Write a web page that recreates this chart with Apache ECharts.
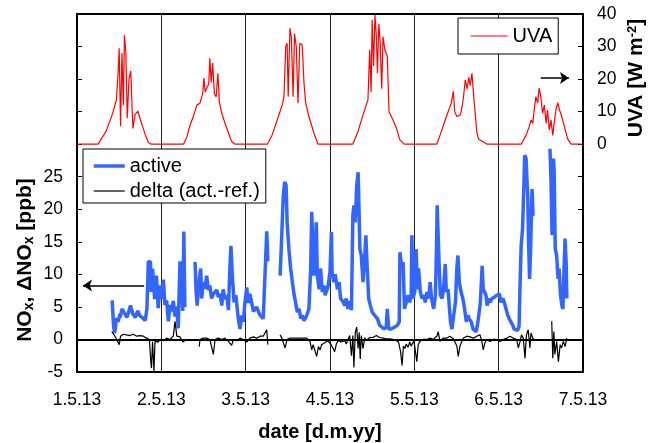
<!DOCTYPE html>
<html>
<head>
    <meta charset="UTF-8">
    <script src="https://cdn.jsdelivr.net/npm/echarts@6/dist/echarts.min.js"></script>
    <style>
        html, body { margin: 0; padding: 0; background: #fff; }
        #main { width: 658px; height: 443px; }
    </style>
</head>
<body>
<div id="main"></div>
<script type="text/javascript">
    // x values are hours after 1.5.13 00:00
    var dayLabels = ['1.5.13', '2.5.13', '3.5.13', '4.5.13', '5.5.13', '6.5.13', '7.5.13'];

    // UVA [W m-2]
    var uva = [
        [0, 0], [6.0, 0], [6.5, 0.5], [8.3, 4], [10.0, 9], [11.2, 13.5], [11.7, 22], [12.0, 29.5], [12.4, 5.5], [12.8, 28],
        [13.2, 12], [13.5, 33.5], [13.9, 28], [14.3, 8], [14.8, 20], [15.3, 22.5], [15.9, 4.8], [16.5, 9], [17.3, 10.2],
        [18.2, 7], [19.4, 3], [20.3, 0.5], [21.1, 0],
        [30.3, 0], [31.2, 2], [32.2, 5.9], [33.1, 8.5], [34.1, 12], [35.0, 12.6], [35.8, 15.7], [36.1, 20.3], [36.5, 16],
        [37.0, 17.5], [37.5, 18.5], [37.8, 26.4], [38.2, 19], [38.6, 24.9], [39.1, 15.5], [39.6, 14.5], [40.1, 21.8],
        [40.5, 13], [41.2, 9.5], [42.1, 6.5], [43.1, 3.5], [44.0, 0.8], [45.0, 0],
        [54.2, 0], [55.6, 3], [57.0, 7.5], [58.4, 12], [58.9, 14.6], [59.4, 30], [59.8, 31], [60.1, 14.6], [60.6, 35.6],
        [61.0, 33], [61.5, 14.6], [61.9, 34], [62.4, 30], [62.9, 12.6], [63.4, 31], [64.1, 30.5], [64.6, 18.7],
        [65.1, 12.6], [66.0, 8.5], [67.4, 3.5], [68.6, 0],
        [78.5, 0], [80.0, 4], [81.4, 9], [82.8, 13.6], [83.3, 29], [83.7, 16], [84.0, 38.2], [84.4, 24], [84.8, 39.7],
        [85.2, 33], [85.5, 21.8], [85.9, 37], [86.3, 31], [86.7, 17], [87.1, 33], [87.6, 29], [88.3, 27], [88.8, 10],
        [89.9, 7.5], [90.9, 5], [91.8, 1.5], [93.1, 0],
        [102.4, 0], [103.4, 3], [104.8, 7.5], [105.8, 10.5], [106.5, 12.6], [107.1, 16.2], [107.5, 10], [108.1, 8.5],
        [109.1, 9], [109.6, 11.5], [110.0, 14.6], [110.5, 19.8], [111.0, 17], [111.5, 20.5], [111.9, 18], [112.4, 21.8],
        [112.9, 14.6], [113.4, 8.5], [113.8, 3.5], [114.3, 1.5], [115.7, 0.7], [116.7, 0],
        [126.4, 0], [127.3, 1.7], [127.8, 2.7], [128.7, 5.4], [129.2, 7.4], [129.7, 6.4], [130.1, 10.5], [130.6, 14.6],
        [131.1, 12.6], [131.5, 17.2], [132.0, 14.6], [132.5, 9.5], [133.0, 12], [133.5, 6.4], [133.9, 10.5], [134.4, 4.4],
        [134.9, 7.4], [135.4, 2.7], [135.8, 6.4], [136.3, 10.5], [136.8, 12.8], [137.3, 10.5], [137.7, 9.5], [138.7, 5.4],
        [139.6, 1.7], [140.6, 0], [144, 0]
    ];

    // NOx active [ppb], null = no data
    var active = [
        [10.0, 6.0], [10.4, 2.1], [10.7, 1.0], [11.3, 3.3], [11.7, 2.7], [12.2, 3.9], [12.3, 3.4], [12.8, 4.7], [13.7, 3.9],
        [14.2, 3.4], [14.7, 4.2], [15.2, 5.2], [15.9, 3.9], [16.6, 3.4], [17.3, 4.4], [17.8, 3.7], [18.5, 3.4], [19.4, 2.9],
        [19.9, 4.7], [20.3, 12.0], [20.9, 11.9], [21.1, 7.3], [21.5, 10.9], [22.1, 6.2], [22.6, 9.8], [23.1, 4.8],
        [23.6, 8.3], [24.1, 6.2], [24.6, 9.2], [25.0, 5.3], [25.5, 6.0], [26.0, 2.8], [26.5, 5.3], [26.9, 4.3], [27.4, 5.9],
        [27.9, 3.5], [28.4, 5.1], [28.8, 1.7], [29.3, 12.0], [29.8, 8.0], [30.1, 4.4], [30.4, 16.6], [30.7, 5.0],
        [32.0, null],
        [33.6, 11.9], [33.9, 7.3], [34.2, 5.2], [34.8, 9.3], [35.2, 10.9], [35.5, 6.3], [35.9, 8.8], [36.4, 7.8],
        [36.9, 9.8], [37.4, 7.6], [37.8, 8.3], [38.3, 6.3], [38.8, 7.0], [39.3, 6.8], [39.8, 7.6], [40.2, 6.5], [40.7, 7.0],
        [41.2, 5.2], [41.6, 7.7], [42.1, 6.2], [42.6, 6.8], [43.1, 4.5], [43.5, 10.9], [43.8, 14.4], [44.2, 9.8],
        [44.7, 5.7], [45.2, 6.8], [45.9, 3.2], [46.4, 1.6], [46.9, 3.7], [47.3, 2.7], [47.8, 5.7], [48.3, 8.0], [48.7, 5.6],
        [49.2, 7.0], [50.2, 4.3], [51.1, 5.0], [52.1, 3.7], [53.0, 3.2], [53.5, 3.0], [54.0, 16.6], [54.3, 12.0],
        [56.0, null],
        [57.8, 9.8], [58.2, 15.0], [58.7, 22.1], [59.1, 24.2], [59.5, 23.7], [59.8, 18.0], [60.3, 13.9], [60.8, 10.9],
        [61.3, 8.8], [61.8, 6.8], [62.2, 5.7], [62.7, 4.2], [63.2, 4.7], [63.7, 3.2], [64.1, 3.7], [64.6, 2.9], [65.1, 3.4],
        [65.5, 3.9], [66.0, 4.7], [66.5, 10.9], [66.8, 19.6], [67.2, 12.9], [67.4, 9.8], [67.7, 12.4], [68.1, 18.0],
        [68.4, 9.8], [68.9, 7.7], [69.3, 10.9], [69.8, 7.3], [70.3, 8.3], [70.6, 6.8], [71.4, 8.0], [72.0, 10.4],
        [72.4, 16.5], [72.6, 10.3], [73.1, 8.8], [73.5, 10.0], [74.1, 7.7], [74.6, 8.8], [75.0, 6.3], [75.7, 5.8],
        [76.2, 5.2], [76.6, 6.3], [77.1, 4.7], [77.6, 5.9], [78.1, 4.5], [78.5, 19.0], [78.8, 20.6], [79.2, 18.0],
        [79.6, 23.7], [80.0, 25.7], [80.3, 19.0], [80.5, 13.9], [80.9, 12.9], [81.4, 8.8], [81.9, 12.9], [82.2, 16.0],
        [82.6, 10.9], [83.0, 6.3], [83.5, 5.2], [84.0, 4.2], [84.7, 3.7], [85.5, 3.2], [86.1, 2.2], [86.6, 1.9],
        [87.4, 1.6], [88.0, 1.9], [88.3, 4.7], [88.7, 1.6], [89.4, 1.6], [90.4, 1.9], [91.2, 2.2], [91.7, 2.7],
        [91.9, 13.4], [92.3, 11.4], [92.8, 11.9], [93.2, 4.7], [93.7, 5.7], [94.2, 6.8], [94.7, 5.7], [95.1, 6.8],
        [95.3, 16.0], [95.6, 6.3], [96.1, 7.3], [96.5, 13.9], [96.9, 7.7], [97.2, 10.9], [97.7, 7.3], [98.2, 6.3],
        [98.7, 6.8], [99.1, 5.7], [99.6, 7.3], [100.1, 6.3], [100.5, 8.8], [100.9, 6.3], [101.5, 4.7], [102.0, 6.8],
        [102.3, 13.9], [102.5, 20.6], [102.9, 13.9], [103.4, 6.8], [103.9, 6.3], [104.3, 7.7], [104.8, 11.6], [105.1, 7.3],
        [105.6, 7.7], [106.0, 4.7], [106.3, 2.7], [106.7, 1.6], [107.2, 3.7], [107.7, 5.7], [108.1, 10.9], [108.4, 12.9],
        [108.8, 8.8], [109.3, 7.3], [109.8, 6.3], [110.3, 4.7], [110.8, 2.7], [111.3, 3.7], [111.6, 3.2], [112.2, 2.7],
        [112.7, 1.6], [113.2, 1.4], [113.6, 1.2], [114.1, 2.7], [114.8, 5.7], [115.3, 11.3], [115.6, 7.7], [116.0, 7.3],
        [116.4, 6.8], [116.7, 5.2], [117.2, 6.3], [117.6, 5.7], [118.1, 6.3], [118.8, 6.5], [119.5, 6.8], [120.2, 7.0],
        [120.7, 5.7], [121.2, 6.3], [121.6, 5.7], [122.1, 4.7], [122.6, 3.7], [123.0, 3.2], [123.5, 2.7], [124.0, 2.2],
        [124.4, 1.6], [124.9, 1.9], [125.4, 1.4], [125.8, 2.0], [126.1, 8.8], [126.4, 14.4], [126.8, 17.0], [127.2, 24.2],
        [127.4, 28.3], [127.8, 27.8], [128.0, 25.2], [128.3, 21.7], [128.5, 15.0], [128.8, 9.3], [129.1, 14.0],
        [129.5, 23.1], [129.8, 19.0],
        [132.0, null],
        [134.6, 29.3], [134.9, 24.2], [135.2, 16.0], [135.6, 27.8], [135.8, 25.7], [136.1, 13.9], [136.5, 12.9],
        [136.9, 9.3], [137.2, 10.9], [137.6, 6.8], [138.0, 5.2], [138.3, 4.7], [138.6, 10.9], [138.9, 15.5], [139.2, 11.9],
        [139.4, 6.3]
    ];

    // delta (act.-ref.) [ppb], null = no data
    var delta = [
        [9.9, 1.2], [10.8, 0.5], [11.3, 0.7], [12.0, -0.8], [12.4, 0.5], [13.2, 0.8], [14.1, 0.7], [15.1, 0.6], [16.0, 0.8],
        [17.0, 0.5], [17.9, 0.6], [18.9, 0.5], [19.8, 0.2], [20.6, 0], [21.0, -3.4], [21.2, -4.4], [21.5, -0.3], [21.9, -4.9],
        [22.2, -0.3], [22.7, 0], [23.1, -0.4], [23.6, 0], [24.6, -0.2], [25.5, 0.2], [26.5, 0], [27.4, 0.5], [27.9, 2.8],
        [28.4, 0.5], [29.3, 0.4], [30.1, -0.4], [30.7, -0.2],
        [32.0, null],
        [34.8, -1.1], [35.0, 0], [35.9, 0.2], [36.9, 0.2], [37.8, 0], [38.8, -2.3], [39.3, 0], [40.2, 0.2], [41.2, 0],
        [42.1, 0.2], [43.1, -0.3], [44.0, -0.9], [44.5, 0], [45.4, -0.2], [46.4, 0.2], [47.3, 0], [48.3, -0.4], [49.2, 0.2],
        [50.2, 0.4], [51.1, 0.2], [52.1, 0.5], [53.0, 0.5], [54.0, 1.5], [54.3, -0.8],
        [56.0, null],
        [57.8, 0.7], [58.3, 0.2], [59.2, -1.3], [59.8, 0], [60.6, 0.2], [61.6, 0.2], [62.5, 0.2], [63.5, 0.2], [64.4, 0.2],
        [65.4, 0.2], [66.3, -0.3], [66.8, -1.6], [67.2, -0.8], [68.2, -2.6], [68.7, -1.1], [69.2, -1.6], [69.6, -0.8],
        [70.1, -1.1], [71.4, -0.2], [72.2, -0.7], [72.9, -1.4], [73.3, -1.9], [73.8, -0.7], [74.3, -0.2], [75.2, -0.4],
        [76.2, -0.2], [76.6, -0.7], [77.1, -1.0], [77.6, 0.6], [78.1, -2.5], [78.5, 0.6], [78.8, -4.3], [79.2, 1.1],
        [79.6, 1.9], [80.0, -1.4], [80.3, 1.1], [80.6, -3.0], [80.9, 0.6], [81.4, -1.4], [81.9, 0.3], [82.3, -0.2],
        [83.3, 0.3], [84.2, 0.3], [85.2, 0.6], [86.1, 0.3], [87.1, 0.2], [88.0, 0.1], [89.0, 0.1], [89.9, 0], [90.9, -0.2],
        [91.5, -0.4], [92.1, -1.9], [92.5, -4.0], [92.9, -1.0], [93.3, -1.4], [93.7, -0.7], [94.2, -1.2], [94.7, -0.4],
        [95.1, -1.0], [95.9, -0.2], [96.7, -3.4], [97.1, -0.8], [97.6, -0.3], [98.5, 0], [99.5, 0], [100.5, 0.2],
        [101.4, 0], [102.4, 0.5], [102.8, 1.2], [103.3, -0.3], [104.2, 0.2], [105.2, 0.2], [106.1, 0.5], [107.1, 0.1],
        [107.6, 0], [108.1, -1.0], [108.5, -2.6], [109.0, -1.0], [109.5, -0.3], [109.9, 0.2], [110.9, 0.5], [111.8, 0.4],
        [112.8, 0.2], [113.7, 0.5], [114.7, 0.7], [115.2, -0.3], [115.6, -1.6], [116.1, -0.5], [116.6, 0], [117.5, -0.3],
        [118.5, 0], [119.4, 0], [120.4, -0.3], [121.3, 0], [122.3, 0.2], [123.2, 0.5], [124.2, 0.2], [124.6, 0.5],
        [125.1, 0], [125.6, -1.3], [126.1, -0.3], [126.5, 0.7], [127.0, 0.2], [127.5, -2.9], [127.9, 0.7], [128.4, 1.5],
        [128.9, -1.3], [129.2, 1.0], [129.7, 0.2], [130.0, 0],
        [132.0, null],
        [135.1, 2.8], [135.4, -2.9], [135.7, 1.2], [136.0, -2.3], [136.5, -0.3], [137.0, -3.4], [137.5, -0.8],
        [137.9, -1.3], [138.4, -0.3], [138.9, -1.1], [139.4, 0.2]
    ];

    var font = 'Liberation Sans, Arial, sans-serif';

    var myChart = echarts.init(document.getElementById('main'));
    var option = {
        animation: false,
        backgroundColor: '#fff',
        textStyle: { fontFamily: font, color: '#000' },
        grid: {
            left: 77, right: 75, top: 14, bottom: 71,
            outerBoundsMode: 'none',
            show: true, borderColor: '#000', borderWidth: 2
        },
        legend: [
            {
                data: [{ name: 'UVA', lineStyle: { width: 1.2 } }],
                left: 458, top: 18,
                padding: [8, 6, 8, 12],
                itemWidth: 37, itemHeight: 12,
                itemStyle: { opacity: 0 },
                borderColor: '#000', borderWidth: 1,
                backgroundColor: '#fff',
                textStyle: { fontFamily: font, fontSize: 20, color: '#000' }
            },
            {
                data: [
                    { name: 'active', lineStyle: { width: 3.5 } },
                    { name: 'delta (act.-ref.)', lineStyle: { width: 1.2 } }
                ],
                orient: 'vertical',
                left: 83, top: 149,
                padding: [7, 6, 2, 9],
                itemGap: 5,
                itemWidth: 31, itemHeight: 12,
                itemStyle: { opacity: 0 },
                borderColor: '#000', borderWidth: 1,
                backgroundColor: '#fff',
                textStyle: { fontFamily: font, fontSize: 20, color: '#000', lineHeight: 20 }
            }
        ],
        xAxis: {
            type: 'value',
            min: 0, max: 144, interval: 24,
            name: 'date [d.m.yy]',
            nameLocation: 'middle',
            nameGap: 50,
            nameTextStyle: {
                fontFamily: font, fontSize: 20, fontWeight: 'bold', color: '#000',
                padding: [0, 20, 0, 0]
            },
            axisLine: { show: true, lineStyle: { color: '#000', width: 2 } },
            axisTick: { show: false },
            axisLabel: {
                margin: 19, fontSize: 17.5, color: '#000', fontFamily: font,
                formatter: function (v) { return dayLabels[Math.round(v / 24)]; }
            },
            splitLine: { show: true, lineStyle: { color: '#222', width: 1 } }
        },
        yAxis: [
            {
                type: 'value',
                min: -5, max: 50, interval: 5,
                position: 'left',
                axisLine: { show: true, lineStyle: { color: '#000', width: 2 } },
                axisTick: { show: true, inside: true, length: 5, lineStyle: { color: '#000' } },
                axisLabel: {
                    margin: 14, fontSize: 17.5, color: '#000', fontFamily: font,
                    formatter: function (v) { return v <= 25 ? String(v) : ''; }
                },
                splitLine: { show: false }
            },
            {
                type: 'value',
                min: -70, max: 40, interval: 10,
                position: 'right',
                axisLine: { show: true, lineStyle: { color: '#000', width: 2 } },
                axisTick: { show: true, inside: true, length: 5, lineStyle: { color: '#000' } },
                axisLabel: {
                    margin: 14, fontSize: 17.5, color: '#000', fontFamily: font,
                    formatter: function (v) { return v >= 0 ? String(v) : ''; }
                },
                splitLine: { show: false }
            }
        ],
        graphic: [
            {
                type: 'text',
                x: 22, y: 260,
                rotation: Math.PI / 2,
                style: {
                    text: '{n|NO}{s|x}{n|, ΔNO}{s|x}{n| [ppb]}',
                    textAlign: 'center',
                    textVerticalAlign: 'middle',
                    fill: '#000',
                    rich: {
                        n: { fontFamily: font, fontSize: 21, fontWeight: 'bold', lineHeight: 28, verticalAlign: 'bottom' },
                        s: { fontFamily: font, fontSize: 14, fontWeight: 'bold', lineHeight: 14, verticalAlign: 'bottom' }
                    }
                }
            },
            {
                type: 'text',
                x: 639, y: 78,
                rotation: Math.PI / 2,
                style: {
                    text: '{n|UVA [W m}{p|-2}{n|]}',
                    textAlign: 'center',
                    textVerticalAlign: 'middle',
                    fill: '#000',
                    rich: {
                        n: { fontFamily: font, fontSize: 21, fontWeight: 'bold', lineHeight: 26, verticalAlign: 'top' },
                        p: { fontFamily: font, fontSize: 13, fontWeight: 'bold', lineHeight: 13, verticalAlign: 'top' }
                    }
                }
            }
        ],
        series: [
            {
                name: 'UVA',
                type: 'line',
                yAxisIndex: 1,
                data: uva,
                showSymbol: false,
                symbol: 'none',
                lineStyle: { color: '#ff0000', width: 1.2 },
                itemStyle: { color: '#ff0000' },
                markLine: {
                    silent: true,
                    symbol: ['none', 'arrow'],
                    symbolSize: 9,
                    label: { show: false },
                    lineStyle: { color: '#000', width: 1.5, type: 'solid' },
                    data: [[{ coord: [132.0, 20.3] }, { coord: [140.0, 20.3] }]]
                }
            },
            {
                name: 'active',
                type: 'line',
                yAxisIndex: 0,
                data: active,
                showSymbol: false,
                symbol: 'none',
                connectNulls: false,
                lineStyle: { color: '#3366ff', width: 3.5 },
                itemStyle: { color: '#3366ff' },
                markLine: {
                    silent: true,
                    symbol: ['none', 'arrow'],
                    symbolSize: 9,
                    label: { show: false },
                    lineStyle: { color: '#000', width: 1.5, type: 'solid' },
                    data: [[{ coord: [19.1, 8.3] }, { coord: [1.7, 8.3] }]]
                }
            },
            {
                name: 'delta (act.-ref.)',
                type: 'line',
                yAxisIndex: 0,
                data: delta,
                showSymbol: false,
                symbol: 'none',
                connectNulls: false,
                lineStyle: { color: '#000', width: 1.2 },
                itemStyle: { color: '#000' },
                markLine: {
                    silent: true,
                    symbol: ['none', 'none'],
                    label: { show: false },
                    lineStyle: { color: '#000', width: 1, type: 'solid' },
                    data: [{ yAxis: 0 }]
                }
            }
        ]
    };
    myChart.setOption(option);
</script>
</body>
</html>
